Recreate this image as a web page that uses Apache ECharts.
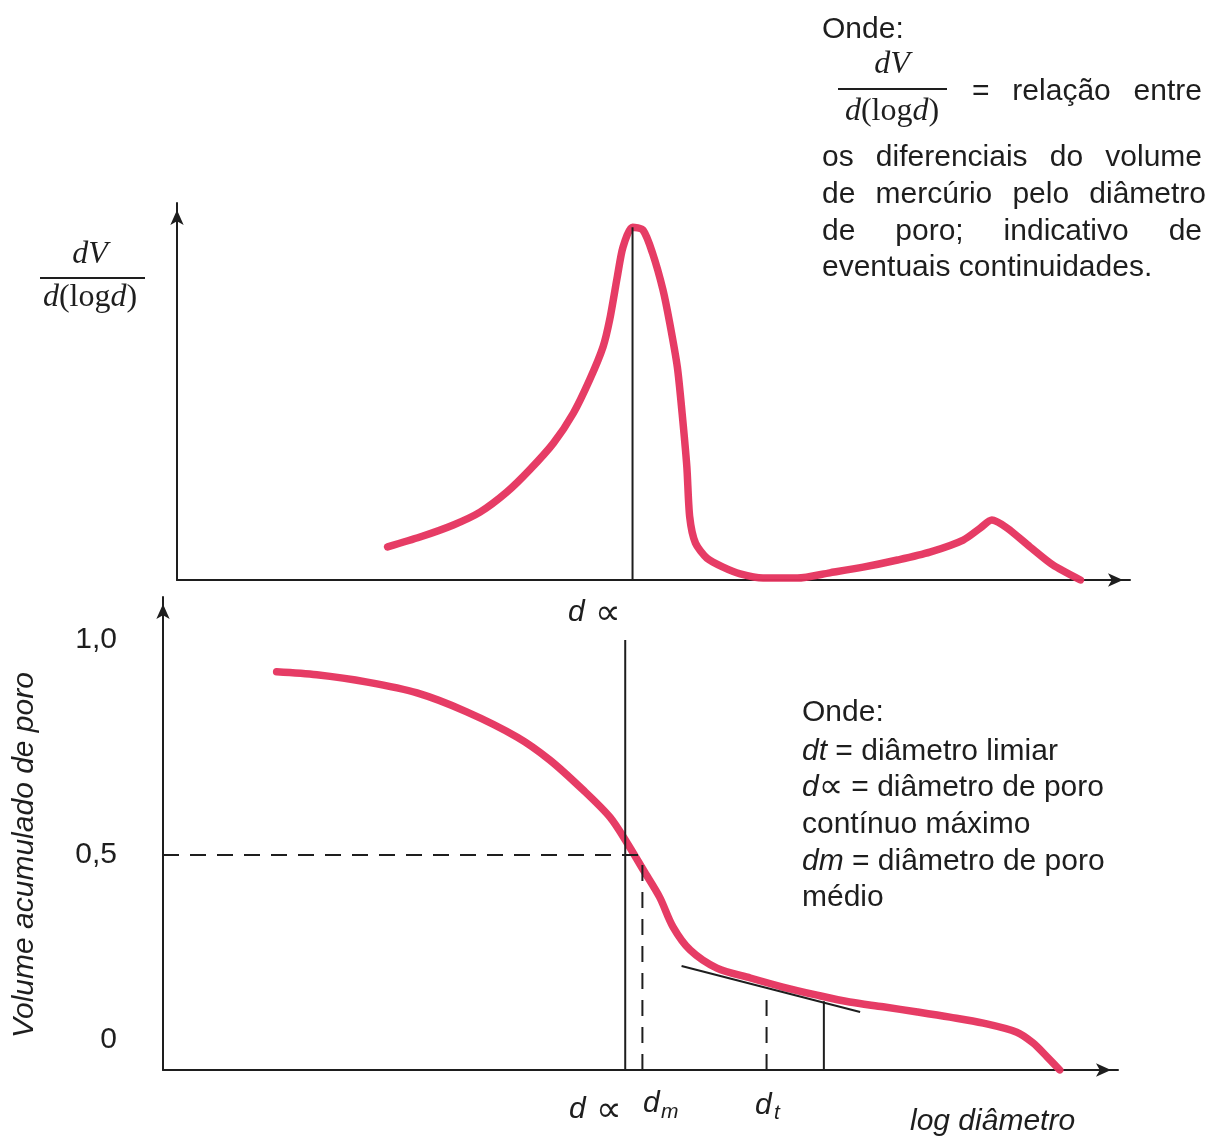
<!DOCTYPE html>
<html>
<head>
<meta charset="utf-8">
<script src="https://cdn.jsdelivr.net/npm/echarts@6/dist/echarts.min.js"></script>
<style>
  html, body { margin: 0; padding: 0; background: #ffffff; }
  #chart { width: 1214px; height: 1138px; }
</style>
</head>
<body>
<div id="chart"></div>
<script>
// Upper panel: incremental intrusion dV/d(log d) against log diameter (arbitrary units)
const incLogD = [22.1, 25.5, 29.0, 31.8, 34.6, 37.0, 39.5, 41.6, 43.3, 44.7, 45.4, 46.2, 46.8, 47.8,
                 48.9, 49.9, 51.0, 51.7, 52.5, 53.0, 53.5, 53.8, 54.4, 55.6, 57.3, 59.1, 61.5, 65.1,
                 68.5, 72.0, 75.6, 79.0, 82.5, 84.3, 85.5, 87.1, 89.5, 91.9, 94.8];
const incDV   = [8.8, 11.4, 14.6, 18.0, 23.3, 29.2, 36.3, 44.3, 53.1, 61.8, 69.0, 80.4, 88.3, 93.6,
                 92.8, 86.7, 76.9, 68.2, 56.5, 44.3, 30.0, 16.7, 9.8, 5.8, 3.4, 1.6, 0.5, 0.5,
                 1.9, 3.4, 5.3, 7.4, 10.6, 13.8, 15.9, 13.8, 8.8, 4.0, 0];

// Lower panel: cumulative pore volume against log diameter
const cumLogD = [11.9, 16.1, 21.4, 26.6, 31.8, 37.1, 40.5, 44.0, 46.8, 48.6, 50.3, 52.0, 53.4, 55.2,
                 58.0, 61.5, 64.9, 68.5, 71.9, 75.4, 79.0, 82.4, 85.9, 89.4, 91.1, 92.6, 93.9];
const cumVol  = [0.926, 0.919, 0.902, 0.877, 0.833, 0.774, 0.721, 0.651, 0.588, 0.528, 0.465, 0.402,
                 0.333, 0.279, 0.237, 0.214, 0.193, 0.174, 0.158, 0.147, 0.135, 0.123, 0.109, 0.088,
                 0.063, 0.030, 0.0];

// Characteristic diameters and the construction lines that locate them
const peakLogD = 47.8, peakDV = 93.6;        // d∝ on the upper panel
const dAlphaLogD = 48.4, dAlphaVol = 1.0;    // d∝ on the lower panel
const dmLogD = 50.2, dmVol = 0.5;            // median diameter
const dtLogD = 63.2, dtVol = 0.17;           // threshold diameter
const tangentEndLogD = 69.2, tangentEndVol = 0.16;
const tangentLogD = [54.3, 73.0];
const tangentVol = [0.242, 0.135];

// Lower panel y-axis ticks
const yTickValues = [0, 0.5, 1.0];
const yTickLabels = ['0', '0,5', '1,0'];

const RED = '#e5325d';
const INK = '#1e1e1e';
const SANS = '"Liberation Sans", Arial, sans-serif';
const SERIF = '"Liberation Serif", "Times New Roman", serif';
const SYMBOL = '"DejaVu Sans", sans-serif';

const zip = (xs, ys) => xs.map((x, i) => [x, ys[i]]);

function axisLineStyle() {
  return {
    show: true,
    onZero: false,
    symbol: ['none', 'arrow'],
    symbolSize: [10, 15],
    symbolOffset: [0, -7],
    lineStyle: { color: INK, width: 2 }
  };
}

function baseAxis(gridIndex, min, max) {
  return {
    type: 'value', gridIndex, min, max,
    axisLine: axisLineStyle(),
    axisTick: { show: false },
    axisLabel: { show: false },
    splitLine: { show: false }
  };
}

function segment(name, xi, pts, dashed, z) {
  return {
    name, type: 'line', xAxisIndex: xi, yAxisIndex: xi,
    data: pts, symbol: 'none', silent: true, z: z || 4,
    lineStyle: { color: INK, width: 2, type: dashed ? [16, 11] : 'solid' }
  };
}

// Text helpers
const measureCtx = document.createElement('canvas').getContext('2d');
function textEl(text, x, y, opts) {
  opts = opts || {};
  return {
    type: 'text', x, y, rotation: opts.rotation || 0, silent: true,
    style: {
      text,
      fontSize: opts.size || 30,
      fontFamily: opts.family || SANS,
      fontStyle: opts.italic ? 'italic' : 'normal',
      fill: opts.fill || INK,
      align: opts.align || 'left',
      verticalAlign: 'middle',
      rich: opts.rich
    }
  };
}
function justified(words, x0, x1, y, size) {
  measureCtx.font = size + 'px ' + SANS;
  const widths = words.map(w => measureCtx.measureText(w).width);
  const total = widths.reduce((a, b) => a + b, 0);
  const gap = (x1 - x0 - total) / (words.length - 1);
  const out = [];
  let x = x0;
  words.forEach((w, i) => { out.push(textEl(w, x, y, { size })); x += widths[i] + gap; });
  return out;
}
function fraction(cx, x0, x1, yNum, yLine, yDen) {
  const richSerif = {
    i: { fontFamily: SERIF, fontStyle: 'italic', fontSize: 32, fill: INK },
    r: { fontFamily: SERIF, fontStyle: 'normal', fontSize: 32, fill: INK }
  };
  return [
    textEl('dV', cx, yNum, { family: SERIF, italic: true, size: 32, align: 'center' }),
    { type: 'line', silent: true, shape: { x1: x0, y1: yLine, x2: x1, y2: yLine },
      style: { stroke: INK, lineWidth: 2 } },
    textEl('{i|d}{r|(log}{i|d}{r|)}', cx, yDen, { align: 'center', rich: richSerif })
  ];
}

const italicRich = {
  i: { fontFamily: SANS, fontStyle: 'italic', fontSize: 30, fill: INK },
  s: { fontFamily: SYMBOL, fontStyle: 'normal', fontSize: 34, fill: INK },
  n: { fontFamily: SANS, fontStyle: 'normal', fontSize: 30, fill: INK }
};

const graphics = [].concat(
  // axis title of the upper panel
  fraction(90, 40, 145, 255, 278, 298),
  // note on the upper panel
  [textEl('Onde:', 822, 30)],
  fraction(892, 838, 947, 65, 89, 112),
  justified(['=', 'relação', 'entre'], 972, 1202, 92, 30),
  justified(['os', 'diferenciais', 'do', 'volume'], 822, 1202, 158, 30),
  justified(['de', 'mercúrio', 'pelo', 'diâmetro'], 822, 1206, 195, 30),
  justified(['de', 'poro;', 'indicativo', 'de'], 822, 1202, 232, 30),
  [textEl('eventuais continuidades.', 822, 268)],
  // labels under the axes
  [
    textEl('d', 568, 613, { italic: true }),
    textEl('∝', 595, 615, { size: 36, family: SYMBOL }),
    textEl('d', 569, 1110, { italic: true }),
    textEl('∝', 596, 1112, { size: 36, family: SYMBOL }),
    textEl('d', 643, 1104, { italic: true }),
    textEl('m', 661, 1112, { italic: true, size: 21 }),
    textEl('d', 755, 1106, { italic: true }),
    textEl('t', 774, 1113, { italic: true, size: 21 }),
    textEl('log diâmetro', 910, 1122, { italic: true }),
    textEl('Volume acumulado de poro', 25, 855, { italic: true, align: 'center', rotation: Math.PI / 2 })
  ],
  // note on the lower panel
  [
    textEl('Onde:', 802, 713),
    textEl('{i|dt}{n| = diâmetro limiar}', 802, 752, { rich: italicRich }),
    textEl('{i|d}{s|∝}{n| = diâmetro de poro}', 802, 788, { rich: italicRich }),
    textEl('contínuo máximo', 802, 825),
    textEl('{i|dm}{n| = diâmetro de poro}', 802, 862, { rich: italicRich }),
    textEl('médio', 802, 898)
  ]
);

const lowerY = baseAxis(1, 0, 1.1);
lowerY.axisLabel = {
  show: true,
  customValues: yTickValues,
  margin: 46,
  fontSize: 30,
  fontFamily: SANS,
  color: INK,
  formatter: (v) => {
    const i = yTickValues.findIndex(t => Math.abs(t - v) < 1e-9);
    const s = i >= 0 ? yTickLabels[i] : '';
    return v === 0 ? '{lift|' + s + '}' : s;
  },
  rich: {
    lift: { fontSize: 30, fontFamily: SANS, color: INK, padding: [0, 0, 60, 0] }
  }
};

const option = {
  animation: false,
  backgroundColor: '#ffffff',
  grid: [
    { left: 177, top: 203, width: 953, height: 377 },
    { left: 163, top: 597, width: 955, height: 473 }
  ],
  xAxis: [baseAxis(0, 0, 100), baseAxis(1, 0, 100)],
  yAxis: [baseAxis(0, 0, 100), lowerY],
  series: [
    {
      name: 'dV/d(log d)', type: 'line', xAxisIndex: 0, yAxisIndex: 0,
      data: zip(incLogD, incDV), smooth: 0.25, symbol: 'none', z: 3,
      lineStyle: { color: RED, width: 7.5, opacity: 0.95, cap: 'round', join: 'round' }
    },
    segment('d∝ (pico)', 0, [[peakLogD, 0], [peakLogD, peakDV]], false),
    {
      name: 'Volume acumulado', type: 'line', xAxisIndex: 1, yAxisIndex: 1,
      data: zip(cumLogD, cumVol), smooth: 0.3, symbol: 'none', z: 3,
      lineStyle: { color: RED, width: 7.5, opacity: 0.95, cap: 'round', join: 'round' }
    },
    segment('0,5', 1, [[0, dmVol], [dmLogD, dmVol]], true),
    segment('d∝', 1, [[dAlphaLogD, 0], [dAlphaLogD, dAlphaVol]], false),
    segment('dm', 1, [[dmLogD, 0], [dmLogD, dmVol]], true),
    segment('dt', 1, [[dtLogD, 0], [dtLogD, dtVol]], true),
    segment('limite', 1, [[tangentEndLogD, 0], [tangentEndLogD, tangentEndVol]], false),
    segment('tangente', 1, zip(tangentLogD, tangentVol), false)
  ],
  graphic: { elements: graphics }
};

const chart = echarts.init(document.getElementById('chart'), null, { renderer: 'canvas' });
chart.setOption(option);
</script>
</body>
</html>
